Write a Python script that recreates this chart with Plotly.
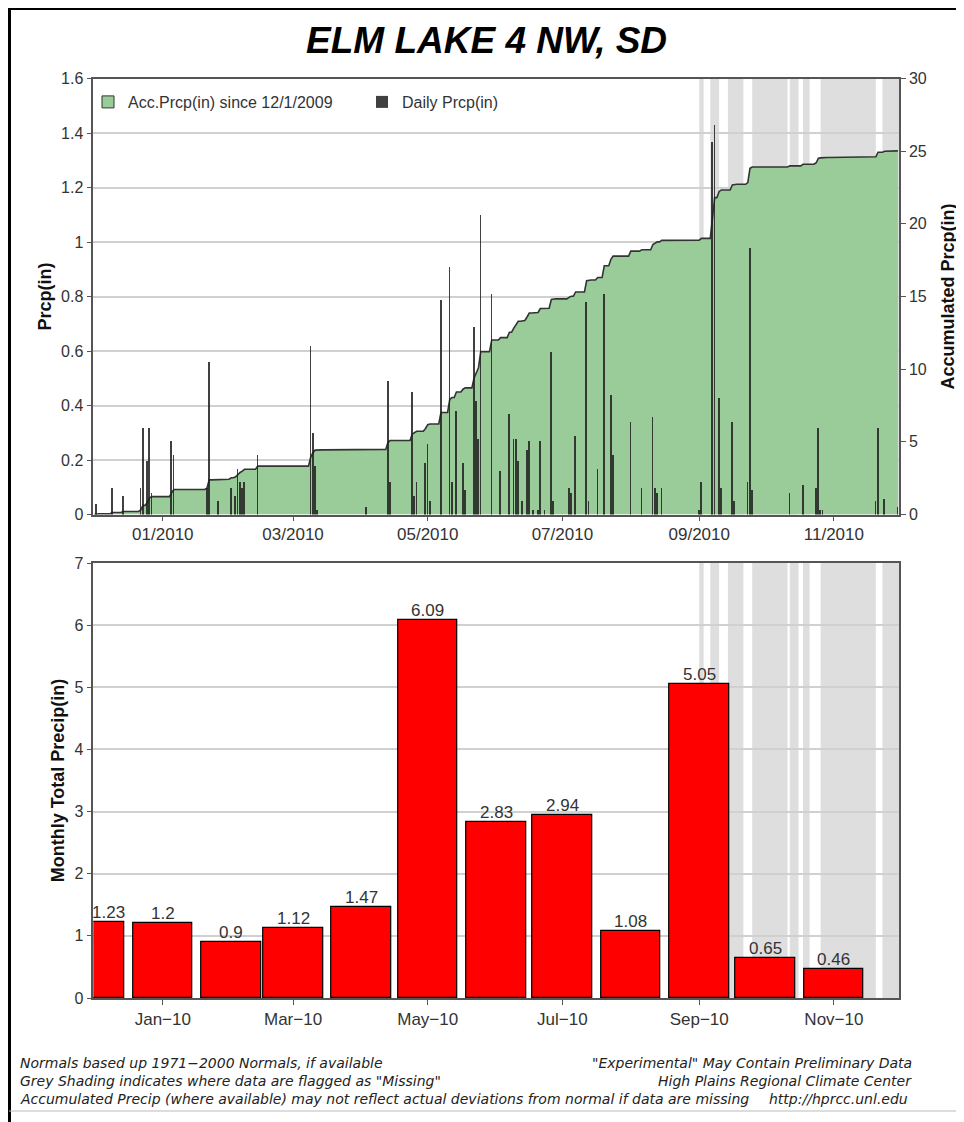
import pandas as pd
import plotly.graph_objects as go

# ---------------- data ----------------
chart_title = "ELM LAKE 4 NW, SD"

daily_dates = [
    "2009-12-02", "2009-12-09", "2009-12-14", "2009-12-22", "2009-12-23", "2009-12-25", "2009-12-26", "2009-12-27",
    "2010-01-05", "2010-01-06", "2010-01-21", "2010-01-22", "2010-01-26",
    "2010-02-01", "2010-02-03", "2010-02-04", "2010-02-05", "2010-02-06", "2010-02-07", "2010-02-13",
    "2010-03-09", "2010-03-10", "2010-03-11", "2010-03-12",
    "2010-04-03", "2010-04-13", "2010-04-14", "2010-04-24", "2010-04-25", "2010-04-26", "2010-04-30",
    "2010-05-01", "2010-05-02", "2010-05-07", "2010-05-11", "2010-05-12", "2010-05-14", "2010-05-17",
    "2010-05-18", "2010-05-22", "2010-05-23", "2010-05-24", "2010-05-25", "2010-05-30",
    "2010-06-03", "2010-06-07", "2010-06-09", "2010-06-10", "2010-06-11", "2010-06-13", "2010-06-15",
    "2010-06-16", "2010-06-18", "2010-06-20", "2010-06-21", "2010-06-23", "2010-06-26", "2010-06-27",
    "2010-07-04", "2010-07-05", "2010-07-07", "2010-07-12", "2010-07-13", "2010-07-17", "2010-07-20",
    "2010-07-23", "2010-07-24",
    "2010-08-01", "2010-08-06", "2010-08-11", "2010-08-12", "2010-08-13", "2010-08-15",
    "2010-09-01", "2010-09-02", "2010-09-07", "2010-09-08", "2010-09-10", "2010-09-11", "2010-09-16",
    "2010-09-17", "2010-09-23", "2010-09-24", "2010-09-25",
    "2010-10-12", "2010-10-18", "2010-10-24", "2010-10-25", "2010-10-26", "2010-10-27",
    "2010-11-20", "2010-11-21", "2010-11-24", "2010-11-30",
]
daily_prcp = [
    0.04, 0.10, 0.07, 0.10, 0.32, 0.20, 0.32, 0.08,
    0.27, 0.22, 0.10, 0.56, 0.05,
    0.10, 0.07, 0.17, 0.12, 0.10, 0.12, 0.22,
    0.62, 0.30, 0.18, 0.02,
    0.03, 0.49, 0.12, 0.45, 0.07, 0.12, 0.19,
    0.26, 0.05, 0.79, 0.91, 0.12, 0.38, 0.19,
    0.09, 0.69, 0.42, 0.28, 1.10, 0.81,
    0.16, 0.37, 0.28, 0.28, 0.20, 0.05, 0.24,
    0.27, 0.02, 0.02, 0.27, 0.02, 0.60, 0.05,
    0.10, 0.08, 0.29, 0.78, 0.05, 0.17, 0.81,
    0.44, 0.22,
    0.34, 0.10, 0.36, 0.10, 0.08, 0.10,
    0.02, 0.12, 1.37, 1.43, 0.43, 0.10, 0.34,
    0.05, 0.12, 0.98, 0.09,
    0.08, 0.11, 0.10, 0.32, 0.02, 0.02,
    0.05, 0.32, 0.06, 0.03,
]

month_starts = ["2009-12-01", "2010-01-01", "2010-02-01", "2010-03-01", "2010-04-01", "2010-05-01",
                "2010-06-01", "2010-07-01", "2010-08-01", "2010-09-01", "2010-10-01", "2010-11-01"]
month_totals = [1.23, 1.2, 0.9, 1.12, 1.47, 6.09, 2.83, 2.94, 1.08, 5.05, 0.65, 0.46]
month_labels = ["1.23", "1.2", "0.9", "1.12", "1.47", "6.09", "2.83", "2.94", "1.08", "5.05", "0.65", "0.46"]

missing_starts = ["2010-09-01", "2010-09-06", "2010-09-14", "2010-09-25", "2010-10-12", "2010-10-18",
                  "2010-10-26", "2010-11-23"]
missing_ends = ["2010-09-02", "2010-09-09", "2010-09-20", "2010-10-10", "2010-10-15", "2010-10-20",
                "2010-11-19", "2010-11-30"]

tick_dates = ["2010-01-01", "2010-03-01", "2010-05-01", "2010-07-01", "2010-09-01", "2010-11-01"]
top_tick_text = ["01/2010", "03/2010", "05/2010", "07/2010", "09/2010", "11/2010"]
bottom_tick_text = ["Jan\u221210", "Mar\u221210", "May\u221210", "Jul\u221210", "Sep\u221210", "Nov\u221210"]

x_start = "2009-11-30 12:00"
x_end = "2010-11-30 12:00"

footer_left = ["Normals based up 1971\u22122000 Normals, if available",
               "Grey Shading indicates where data are flagged as \"Missing\"",
               "Accumulated Precip (where available) may not reflect actual deviations from normal if data are missing"]
footer_right = ["\"Experimental\" May Contain Preliminary Data",
                "High Plains Regional Climate Center",
                "http://hprcc.unl.edu"]

# ---------------- derived series ----------------
all_days = pd.date_range("2009-12-01", "2010-11-30", freq="D")
daily_series = pd.Series(daily_prcp, index=pd.to_datetime(daily_dates)).reindex(all_days, fill_value=0.0)
accum = daily_series.cumsum()

DAY_MS = 86400000
bar_width_days = 27

# ---------------- layout geometry (page px -> paper, page has 8px body margin) ----------------
OX, OY = 8, 8
W, H = 956, 1114
def px(x):
    return (x - OX) / W
def py(y):
    return 1 - (y - OY) / H

FONT = "Liberation Sans, Arial, sans-serif"
XDOM = [px(93.3), px(899)]
TOP_DOM = [py(514.5), py(78.5)]
BOT_DOM = [py(998), py(563)]
AXC = "#555555"
GRIDC = "#D0D0D0"
YTICKF = dict(family=FONT, size=16, color="#333333")
XTICKF = dict(family=FONT, size=17, color="#333333")
TITLEF = dict(family=FONT, size=18, color="#111111", weight="bold")

fig = go.Figure()

# accumulated precip (right axis, primary)
fig.add_trace(go.Scatter(
    x=all_days, y=accum.values, xaxis="x", yaxis="y",
    mode="lines", line=dict(color="#333333", width=1.6), fill="tozeroy",
    fillcolor="#99CC99", showlegend=False, hoverinfo="skip"))

# legend entry for accumulated
fig.add_trace(go.Bar(
    x=[None], y=[None], xaxis="x", yaxis="y2", name="Acc.Prcp(in) since 12/1/2009",
    marker=dict(color="#99CC99", line=dict(color="#333333", width=1)), showlegend=True))

# daily precip (left axis overlay)
fig.add_trace(go.Bar(
    x=daily_dates, y=daily_prcp, xaxis="x", yaxis="y2", name="Daily Prcp(in)",
    width=[0.8 * DAY_MS] * len(daily_dates),
    marker=dict(color="rgba(30,30,30,0.85)", line=dict(width=0)), showlegend=True))

# monthly totals
fig.add_trace(go.Bar(
    x=month_starts, y=month_totals, xaxis="x2", yaxis="y3",
    width=[bar_width_days * DAY_MS] * len(month_starts),
    marker=dict(color="#FF0000", line=dict(color="#000000", width=1.2)), showlegend=False))

# missing-data shading
shapes = []
for s, e in zip(missing_starts, missing_ends):
    x0 = pd.Timestamp(s)
    x1 = pd.Timestamp(e) + pd.Timedelta(days=1)
    for xr, yr in (("x", "y domain"), ("x2", "y3 domain")):
        shapes.append(dict(type="rect", xref=xr, yref=yr, x0=x0, x1=x1, y0=0, y1=1,
                           fillcolor="#DEDEDE", line=dict(width=0), layer="below"))

# outer frame
shapes.append(dict(type="line", xref="paper", yref="paper", x0=px(9), x1=1, y0=py(8.5), y1=py(8.5),
                   line=dict(color="#000000", width=3)))
shapes.append(dict(type="line", xref="paper", yref="paper", x0=px(9.5), x1=px(9.5), y0=py(8), y1=0,
                   line=dict(color="#000000", width=3)))
shapes.append(dict(type="line", xref="paper", yref="paper", x0=px(9), x1=1, y0=py(1111), y1=py(1111),
                   line=dict(color="#BBBBBB", width=1)))

annotations = []
# bar value labels
xs0 = pd.Timestamp(x_start)
xs1 = pd.Timestamp(x_end)
half = pd.Timedelta(days=bar_width_days / 2)
for d, v, lab in zip(month_starts, month_totals, month_labels):
    c = pd.Timestamp(d)
    left = max(c - half, xs0)
    right = min(c + half, xs1)
    xm = left + (right - left) / 2
    annotations.append(dict(x=xm, y=v, xref="x2", yref="y3", text=lab, showarrow=False,
                            yanchor="bottom", xanchor="center", yshift=-2,
                            font=dict(family=FONT, size=17, color="#333333")))

# title
annotations.append(dict(x=px(486), y=py(41), xref="paper", yref="paper", text=chart_title, showarrow=False,
                        xanchor="center", yanchor="middle",
                        font=dict(family=FONT, size=37, color="#000000", weight="bold", style="italic")))

# footer
FOOTF = dict(family="DejaVu Sans, sans-serif", size=14, color="#222222", style="italic")
foot_y = [1063, 1081, 1099]
foot_right_x = [914, 914, 910]
for t, yy in zip(footer_left, foot_y):
    annotations.append(dict(x=px(18), y=py(yy), xref="paper", yref="paper", text=t, showarrow=False,
                            xanchor="left", yanchor="middle", font=FOOTF))
for t, yy, xx in zip(footer_right, foot_y, foot_right_x):
    annotations.append(dict(x=px(xx), y=py(yy), xref="paper", yref="paper", text=t, showarrow=False,
                            xanchor="right", yanchor="middle", font=FOOTF))

fig.update_layout(
    width=W, height=H, margin=dict(l=0, r=0, t=0, b=0),
    paper_bgcolor="white", plot_bgcolor="white",
    barmode="overlay", bargap=0,
    font=dict(family=FONT, color="#333333"),
    shapes=shapes, annotations=annotations,
    legend=dict(orientation="h", x=px(88), y=py(85), xanchor="left", yanchor="top",
                bgcolor="rgba(0,0,0,0)", font=dict(family=FONT, size=16, color="#333333"),
                itemwidth=30, entrywidth=229, entrywidthmode="pixels", traceorder="normal"),
    xaxis=dict(domain=XDOM, anchor="y", type="date", range=[x_start, x_end],
               tickvals=tick_dates, ticktext=top_tick_text, ticks="outside", ticklen=5, tickcolor=AXC,
               showline=True, linecolor=AXC, linewidth=1.5, mirror=True, showgrid=False,
               tickfont=XTICKF, automargin=False, ticklabelstandoff=-2),
    yaxis=dict(domain=TOP_DOM, anchor="x", side="right", range=[0, 30], dtick=5, tick0=0,
               ticks="outside", ticklen=5, tickcolor=AXC, showline=True, linecolor=AXC, linewidth=1.5,
               showgrid=False, zeroline=False, tickfont=YTICKF, automargin=False,
               title=dict(text="Accumulated Prcp(in)", font=TITLEF, standoff=16)),
    yaxis2=dict(overlaying="y", side="left", anchor="x", range=[0, 1.6], dtick=0.2, tick0=0,
                ticks="outside", ticklen=5, tickcolor=AXC, showline=True, linecolor=AXC, linewidth=1.5,
                showgrid=True, gridcolor=GRIDC, gridwidth=1.5, zeroline=False, tickfont=YTICKF,
                automargin=False,
                title=dict(text="Prcp(in)", font=TITLEF, standoff=5)),
    xaxis2=dict(domain=XDOM, anchor="y3", type="date", range=[x_start, x_end],
                tickvals=tick_dates, ticktext=bottom_tick_text, ticks="outside", ticklen=5, tickcolor=AXC,
                showline=True, linecolor=AXC, linewidth=1.5, mirror=True, showgrid=False,
                tickfont=XTICKF, automargin=False),
    yaxis3=dict(domain=BOT_DOM, anchor="x2", range=[0, 7], dtick=1, tick0=0,
                ticks="outside", ticklen=5, tickcolor=AXC, showline=True, linecolor=AXC, linewidth=1.5,
                mirror=True, showgrid=True, gridcolor=GRIDC, gridwidth=1.5, zeroline=False,
                tickfont=YTICKF, automargin=False,
                title=dict(text="Monthly Total Precip(in)", font=TITLEF, standoff=5)),
)

fig.write_html("out.html")
